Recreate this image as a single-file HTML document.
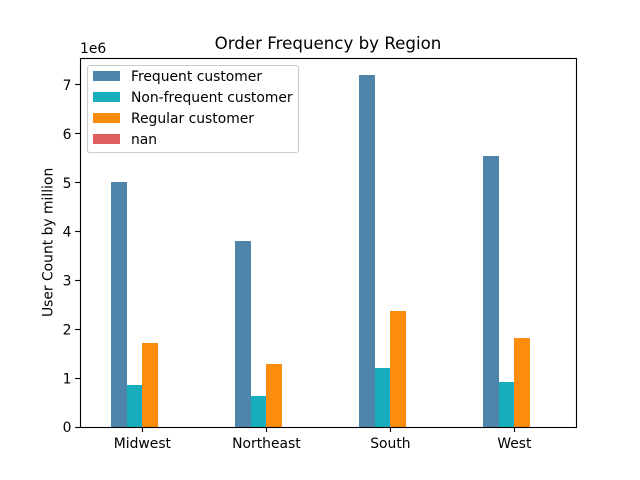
<!DOCTYPE html>
<html>
<head>
<meta charset="utf-8">
<title>Order Frequency by Region</title>
<style>
html,body{margin:0;padding:0;background:#fff;width:640px;height:480px;overflow:hidden}
svg{display:block}
text{font-family:"DejaVu Sans","Liberation Sans",sans-serif;fill:#000}
</style>
</head>
<body>
<svg id="chart" xmlns="http://www.w3.org/2000/svg" width="640" height="480" viewBox="0 0 640 480">
<rect x="0" y="0" width="640" height="480" fill="#ffffff"/>
<text x="328" y="49" font-size="16.67" text-anchor="middle">Order Frequency by Region</text>
<text x="80" y="53" font-size="13.89">1e6</text>
<text transform="translate(52.5 242.4) rotate(-90)" font-size="13.89" text-anchor="middle">User Count by million</text>
<g id="bars"></g>
<g id="axes"></g>
<g id="legend"></g>
</svg>
<script>
const categories = ["Midwest", "Northeast", "South", "West"];
const seriesNames = ["Frequent customer", "Non-frequent customer", "Regular customer", "nan"];
const seriesColors = ["#4f85aa", "#16adbc", "#fb8c0e", "#e05d5e"];
const frequentValues = [5010000, 3810000, 7200000, 5550000];
const nonFrequentValues = [863000, 638000, 1210000, 925000];
const regularValues = [1720000, 1290000, 2380000, 1820000];
const nanValues = [0, 0, 0, 0];
const yTicks = [0, 1, 2, 3, 4, 5, 6, 7];
const yMax = 7560000;
const yScaleUnit = 1000000;
const barWidthUnits = 0.125;

const allSeries = [frequentValues, nonFrequentValues, regularValues, nanValues];
const NS = "http://www.w3.org/2000/svg";
const plot = { left: 80, right: 576, top: 57.6, bottom: 427.2 };

function xPos(u) {
  const step = (plot.right - plot.left) / categories.length;
  return plot.left + step * (u + 0.5);
}
function yPos(v) {
  return plot.bottom - (v / yMax) * (plot.bottom - plot.top);
}
function make(tag, attrs, parent) {
  const el = document.createElementNS(NS, tag);
  for (const k in attrs) el.setAttribute(k, attrs[k]);
  parent.appendChild(el);
  return el;
}

const barsGroup = document.getElementById("bars");
const axesGroup = document.getElementById("axes");
const legendGroup = document.getElementById("legend");

allSeries.forEach(function (values, s) {
  values.forEach(function (v, c) {
    const x0 = Math.round(xPos(c - 0.25 + s * barWidthUnits));
    const x1 = Math.round(xPos(c - 0.25 + (s + 1) * barWidthUnits));
    const top = Math.round(yPos(v));
    const base = Math.round(yPos(0));
    const bar = make("rect", { x: x0, y: top, width: x1 - x0, height: base - top, fill: seriesColors[s] }, barsGroup);
    
    
  });
});

yTicks.forEach(function (t) {
  const raw = yPos(t * yScaleUnit);
  const y = Math.floor(raw) + 0.5;
  const tick = make("line", { x1: plot.left - 4.86, x2: plot.left, y1: y, y2: y, stroke: "#000", "stroke-width": 1.11 }, axesGroup);
  
  
  const label = make("text", { x: plot.left - 8.5, y: raw + 5, "font-size": 13.89, "text-anchor": "end" }, axesGroup);
  label.textContent = String(t);
  
  
});

categories.forEach(function (name, c) {
  const raw = xPos(c);
  const x = Math.floor(raw) + 0.5;
  const tick = make("line", { x1: x, x2: x, y1: plot.bottom, y2: plot.bottom + 4.86, stroke: "#000", "stroke-width": 1.11 }, axesGroup);
  
  
  const label = make("text", { x: raw + 0.4, y: 448, "font-size": 13.89, "text-anchor": "middle" }, axesGroup);
  label.textContent = name;
  
  
});

const frame = make("rect", { x: plot.left + 0.5, y: 58.5, width: plot.right - plot.left, height: 369, fill: "none", stroke: "#000", "stroke-width": 1.11 }, axesGroup);



const legendBox = make("rect", { x: 87.5, y: 65.5, width: 211, height: 87, rx: 2.5, ry: 2.5, fill: "#ffffff", "fill-opacity": 0.8, stroke: "#cccccc", "stroke-width": 1.11 }, legendGroup);



seriesNames.forEach(function (name, s) {
  const rowTop = 71 + s * 21;
  const swatch = make("rect", { x: 93, y: rowTop, width: 27, height: 10, fill: seriesColors[s] }, legendGroup);
  
  
  const label = make("text", { x: 131, y: rowTop + 10, "font-size": 13.89 }, legendGroup);
  label.textContent = name;
  
  
});
</script>
</body>
</html>
